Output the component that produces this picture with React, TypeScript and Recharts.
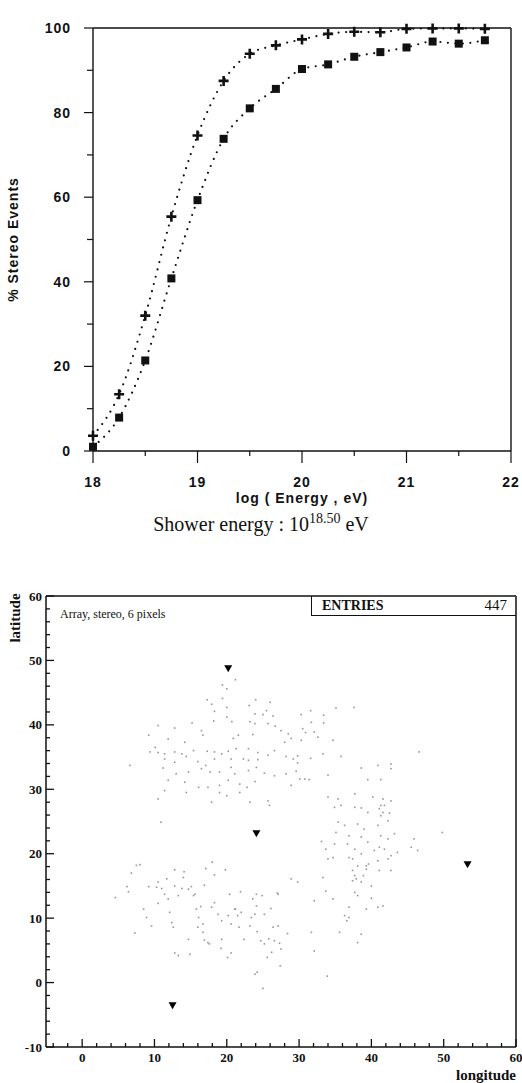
import React from 'react';
import { LineChart, Line, XAxis, YAxis, ScatterChart, Scatter, ReferenceLine } from 'recharts';

// --- efficiency curves (top panel) ---
const energyBins = [18, 18.25, 18.5, 18.75, 19, 19.25, 19.5, 19.75, 20, 20.25, 20.5, 20.75, 21, 21.25, 21.5, 21.75];
const crossPct = [3.6, 13.4, 32.0, 55.4, 74.6, 87.5, 93.9, 95.9, 97.3, 98.6, 99.1, 99.0, 99.8, 99.9, 99.9, 99.8];
const squarePct = [1.0, 7.9, 21.4, 40.8, 59.3, 73.8, 81.0, 85.6, 90.3, 91.4, 93.2, 94.3, 95.4, 96.8, 96.3, 97.1];
const energyTicks = [18, 18.5, 19, 19.5, 20, 20.5, 21, 21.5, 22];
const pctTicks = [0, 10, 20, 30, 40, 50, 60, 70, 80, 90, 100];

// --- shower core map (bottom panel) ---
const lonTicks = [-4, -2, 0, 2, 4, 6, 8, 10, 12, 14, 16, 18, 20, 22, 24, 26, 28, 30, 32, 34, 36, 38, 40, 42, 44, 46, 48, 50, 52, 54, 56, 58, 60];
const latTicks = [-10, -8, -6, -4, -2, 0, 2, 4, 6, 8, 10, 12, 14, 16, 18, 20, 22, 24, 26, 28, 30, 32, 34, 36, 38, 40, 42, 44, 46, 48, 50, 52, 54, 56, 58, 60];
const detectorSites: [number, number][] = [[20.2, 48.7], [24.1, 23.1], [12.5, -3.6], [53.3, 18.3]];
const eventPositions: [number, number][] = [
  [21.2, 47.0], [19.4, 46.2], [20.0, 45.6], [17.3, 43.9], [19.4, 44.1], [24.0, 43.9], [26.0, 43.5], [35.1, 42.6], [37.6, 42.7], [17.9, 43.2],
  [20.0, 42.7], [23.1, 43.0], [25.5, 42.2], [18.3, 42.1], [23.9, 41.7], [25.0, 41.6], [26.4, 41.4], [30.3, 41.6], [31.6, 42.2], [33.4, 41.5],
  [20.0, 41.2], [20.7, 40.5], [18.2, 40.6], [23.2, 40.5], [23.9, 40.2], [25.7, 40.2], [26.7, 39.8], [31.7, 40.4], [33.4, 40.3], [30.5, 39.4],
  [10.5, 39.9], [12.8, 39.5], [15.2, 40.3], [16.5, 39.1], [27.5, 39.1], [28.5, 38.6], [30.9, 38.8], [32.1, 38.9], [32.6, 38.1], [9.2, 38.4],
  [11.9, 37.8], [14.2, 37.3], [16.7, 38.4], [20.9, 37.9], [21.6, 38.4], [23.6, 38.5], [28.0, 37.3], [28.9, 37.9], [30.3, 37.6], [34.7, 37.6],
  [10.1, 36.5], [9.4, 35.8], [10.5, 35.7], [11.4, 35.5], [12.8, 35.8], [13.8, 35.5], [14.4, 35.1], [15.4, 36.0], [17.3, 35.9], [18.3, 35.8],
  [19.3, 35.5], [20.2, 35.9], [21.3, 36.3], [23.0, 36.3], [24.3, 35.7], [25.7, 35.3], [26.6, 36.0], [28.2, 35.1], [29.8, 35.2], [31.6, 34.8],
  [33.3, 35.5], [35.8, 35.1], [46.6, 35.8], [6.6, 33.7], [11.4, 34.7], [12.8, 34.2], [16.0, 34.3], [17.1, 33.7], [18.3, 34.7], [20.6, 34.7],
  [22.3, 34.7], [23.0, 34.5], [24.3, 34.6], [29.2, 34.7], [29.8, 34.1], [11.2, 33.3], [13.0, 32.4], [14.7, 32.7], [16.5, 33.2], [17.7, 32.7],
  [19.0, 32.7], [20.6, 33.4], [21.1, 32.4], [23.0, 32.9], [24.1, 33.4], [25.2, 32.5], [26.6, 32.1], [28.2, 32.4], [29.6, 32.8], [30.8, 31.6],
  [34.0, 32.2], [38.6, 33.3], [40.9, 33.7], [42.7, 33.2], [42.7, 33.9], [11.9, 31.4], [14.2, 31.1], [16.1, 30.3], [17.4, 30.3], [19.0, 30.6],
  [20.2, 31.4], [21.8, 30.8], [22.8, 30.3], [23.9, 31.2], [28.9, 30.6], [30.1, 31.6], [31.4, 31.5], [39.5, 31.5], [41.3, 31.5], [11.4, 29.8],
  [14.4, 29.5], [19.0, 29.5], [20.0, 29.0], [21.8, 29.5], [10.5, 28.5], [17.9, 28.0], [23.2, 28.0], [25.7, 28.2], [25.9, 27.5], [34.0, 28.8],
  [35.4, 28.5], [37.7, 29.3], [40.2, 28.8], [41.6, 28.5], [42.7, 28.2], [37.7, 27.2], [38.6, 27.1], [34.9, 27.2], [41.3, 27.5], [41.6, 26.4],
  [35.8, 27.5], [39.5, 26.4], [41.1, 27.0], [41.8, 27.5], [42.5, 26.3], [41.3, 25.9], [42.3, 25.1], [10.9, 24.9], [35.4, 24.9], [36.3, 24.4],
  [38.1, 24.6], [39.0, 23.8], [40.9, 24.4], [43.2, 23.1], [35.1, 23.3], [36.9, 22.8], [38.6, 22.6], [41.3, 22.8], [42.3, 22.3], [33.1, 21.9],
  [34.9, 21.5], [36.7, 21.5], [37.7, 20.7], [39.5, 21.8], [40.4, 20.5], [41.1, 21.0], [41.8, 20.7], [43.6, 20.2], [45.9, 22.3], [45.5, 21.0],
  [46.4, 20.5], [49.8, 23.3], [33.7, 20.7], [34.0, 19.2], [34.7, 19.4], [36.9, 19.4], [37.4, 19.2], [38.6, 20.0], [39.3, 18.1], [39.6, 18.4],
  [40.9, 18.9], [42.3, 19.2], [42.7, 19.7], [37.4, 17.4], [38.1, 18.1], [39.3, 17.6], [41.1, 17.4], [42.7, 17.4], [37.7, 16.6], [38.9, 16.6],
  [37.4, 15.8], [37.9, 16.1], [38.6, 15.6], [40.0, 15.0], [33.3, 16.3], [33.7, 14.2], [34.7, 13.0], [37.7, 14.0], [38.1, 13.5], [40.0, 13.1],
  [32.1, 12.7], [36.9, 11.7], [39.3, 11.4], [40.9, 11.7], [41.6, 11.9], [36.3, 10.4], [36.9, 10.1], [36.6, 9.6], [35.6, 7.8], [38.6, 7.5],
  [38.1, 6.2], [31.7, 7.8], [32.1, 4.9], [33.9, 1.0], [28.9, 16.1], [29.8, 15.6], [27.1, 13.7], [4.6, 13.2], [6.2, 14.9], [6.4, 14.1],
  [6.8, 17.0], [7.5, 18.2], [8.0, 18.3], [7.3, 7.7], [8.5, 11.4], [8.9, 10.1], [9.2, 14.9], [9.6, 8.8], [10.3, 14.8], [10.5, 12.3],
  [10.5, 15.6], [11.0, 14.6], [11.4, 13.7], [11.7, 16.1], [11.9, 13.0], [12.1, 10.9], [12.4, 9.3], [12.6, 8.6], [12.8, 17.5], [12.8, 15.0],
  [13.3, 13.5], [13.8, 14.6], [14.0, 16.3], [14.1, 17.2], [14.7, 14.5], [15.1, 14.9], [15.4, 13.5], [15.6, 13.7], [15.8, 11.4], [16.0, 8.6],
  [16.4, 11.8], [16.7, 7.8], [16.9, 15.1], [16.9, 6.6], [17.1, 17.7], [17.4, 6.2], [17.6, 6.0], [17.9, 11.7], [18.0, 18.7], [18.3, 16.7],
  [19.3, 9.6], [19.3, 6.7], [19.8, 17.5], [20.1, 3.9], [20.6, 4.6], [20.2, 10.4], [20.4, 13.7], [20.6, 9.1], [21.1, 11.4], [21.5, 10.4],
  [21.7, 8.6], [21.9, 14.1], [22.0, 10.9], [22.4, 6.7], [23.2, 8.8], [23.4, 10.1], [23.6, 13.0], [23.9, 10.6], [24.1, 13.7], [24.1, 11.9],
  [24.2, 7.9], [23.9, 1.3], [24.2, 1.6], [24.7, 6.5], [24.9, 13.5], [25.0, -0.9], [25.2, 10.6], [25.2, 6.0], [25.6, 3.9], [25.8, 6.8],
  [26.1, 11.5], [26.2, 4.7], [26.4, 8.6], [26.6, 6.5], [27.0, 13.9], [27.1, 8.8], [27.3, 6.1], [27.4, 2.6], [27.5, 5.2], [28.4, 7.6],
  [12.8, 4.6], [13.3, 4.2], [14.7, 6.7], [14.9, 4.4], [16.1, 10.1], [16.7, 9.1], [18.3, 12.4], [18.8, 10.6], [19.2, 5.3], [21.2, 11.4],
];
const entriesCount = 447;

const effData = energyBins.map((e, i) => ({ energy: e, cross: crossPct[i], square: squarePct[i] }));
const eventData = eventPositions.map(([lon, lat]) => ({ lon, lat }));
const siteData = detectorSites.map(([lon, lat]) => ({ lon, lat }));

const INK = '#111';
const sans = { fontFamily: '"Liberation Sans", Arial, sans-serif', fontWeight: 700, fontSize: 14, letterSpacing: 1 };
const serif = '"Liberation Serif", "Times New Roman", serif';

// tick renderers: tickSize/tickMargin are 0, so (x, y) sit on the axis line
const energyBottomTick = ({ x, y, payload }: any) => {
  const major = Number.isInteger(payload.value);
  return (
    <g>
      <line x1={x} y1={y} x2={x} y2={y + (major ? 12 : 5)} stroke={INK} strokeWidth={1.2} />
      {major && (
        <text x={x} y={y + 36} textAnchor="middle" fill={INK} style={sans}>
          {payload.value}
        </text>
      )}
    </g>
  );
};

const energyTopTick = ({ x, y, payload }: any) => {
  const major = Number.isInteger(payload.value);
  return <line x1={x} y1={y} x2={x} y2={y - (major ? 13 : 7)} stroke={INK} strokeWidth={1.2} />;
};

const pctLeftTick = ({ x, y, payload }: any) => {
  const major = payload.value % 20 === 0;
  return (
    <g>
      <line x1={x} y1={y} x2={x - (major ? 9 : 6)} y2={y} stroke={INK} strokeWidth={1.2} />
      {major && (
        <text x={x - 22} y={y + 5} textAnchor="end" fill={INK} style={sans}>
          {payload.value}
        </text>
      )}
    </g>
  );
};

const pctRightTick = ({ x, y }: any) => (
  <line x1={x} y1={y} x2={x + 11} y2={y} stroke={INK} strokeWidth={1.2} />
);

const lonTick = ({ x, y, payload }: any) => {
  const major = payload.value % 10 === 0;
  return (
    <g>
      <line x1={x} y1={y} x2={x} y2={y - (major ? 8 : 4)} stroke={INK} strokeWidth={1.3} />
      {major && (
        <text x={x} y={y + 15} textAnchor="middle" fill={INK} fontFamily={serif} fontWeight={700} fontSize={13}>
          {payload.value}
        </text>
      )}
    </g>
  );
};

const latTick = ({ x, y, payload }: any) => {
  const major = payload.value % 10 === 0;
  return (
    <g>
      <line x1={x} y1={y} x2={x + (major ? 8 : 4)} y2={y} stroke={INK} strokeWidth={1.3} />
      {major && (
        <text x={x - 4} y={y + 4.5} textAnchor="end" fill={INK} fontFamily={serif} fontWeight={700} fontSize={13}>
          {payload.value}
        </text>
      )}
    </g>
  );
};

const plusMarker = (p: any) => (
  <path
    key={`c${p.index}`}
    d={`M${p.cx - 5},${p.cy} H${p.cx + 5} M${p.cx},${p.cy - 5} V${p.cy + 5}`}
    stroke={INK}
    strokeWidth={2.6}
    fill="none"
  />
);

const squareMarker = (p: any) => (
  <rect key={`s${p.index}`} x={p.cx - 4} y={p.cy - 4} width={8} height={8} fill={INK} />
);

const eventDot = (p: any) => <rect x={p.cx - 0.8} y={p.cy - 0.8} width={1.6} height={1.6} fill="#969696" />;

const siteMarker = (p: any) => (
  <path d={`M${p.cx - 4},${p.cy - 3.5} L${p.cx + 4},${p.cy - 3.5} L${p.cx},${p.cy + 3.5} Z`} fill="#000" />
);

export default function App() {
  return (
    <div style={{ position: 'absolute', left: 0, top: 0, width: 522, height: 1083, background: '#fff', overflow: 'hidden' }}>
      <LineChart width={522} height={560} data={effData} margin={{ top: 0, right: 0, bottom: 0, left: 0 }}>
        <XAxis
          dataKey="energy"
          type="number"
          domain={[18, 22]}
          ticks={energyTicks}
          interval={0}
          height={109}
          tickSize={0}
          tickMargin={0}
          tick={energyBottomTick}
          axisLine={{ stroke: INK, strokeWidth: 1.4 }}
          label={(props: any) => (
            <text x={props.viewBox.x + props.viewBox.width / 2} y={503} textAnchor="middle" fill={INK} style={sans}>
              log ( Energy , eV)
            </text>
          )}
        />
        <XAxis
          xAxisId="top"
          orientation="top"
          type="number"
          domain={[18, 22]}
          ticks={energyTicks}
          interval={0}
          height={28}
          tickSize={0}
          tickMargin={0}
          tick={energyTopTick}
          axisLine={{ stroke: INK, strokeWidth: 1.4 }}
        />
        <YAxis
          type="number"
          domain={[0, 100]}
          ticks={pctTicks}
          interval={0}
          width={93}
          tickSize={0}
          tickMargin={0}
          tick={pctLeftTick}
          axisLine={{ stroke: INK, strokeWidth: 1.4 }}
          label={(props: any) => (
            <text
              x={18}
              y={props.viewBox.y + props.viewBox.height / 2}
              transform={`rotate(-90 18 ${props.viewBox.y + props.viewBox.height / 2})`}
              textAnchor="middle"
              fill={INK}
              style={sans}
            >
              % Stereo Events
            </text>
          )}
        />
        <YAxis
          yAxisId="right"
          orientation="right"
          type="number"
          domain={[0, 100]}
          ticks={pctTicks}
          interval={0}
          width={11}
          tickSize={0}
          tickMargin={0}
          tick={pctRightTick}
          axisLine={{ stroke: INK, strokeWidth: 1.4 }}
        />
        <Line
          dataKey="cross"
          type="monotone"
          stroke={INK}
          strokeWidth={2.2}
          strokeDasharray="0 7.5"
          strokeLinecap="round"
          dot={plusMarker}
          isAnimationActive={false}
        />
        <Line
          dataKey="square"
          type="monotone"
          stroke={INK}
          strokeWidth={2.2}
          strokeDasharray="0 7.5"
          strokeLinecap="round"
          dot={squareMarker}
          isAnimationActive={false}
        />
      </LineChart>

      <div style={{ position: 'absolute', left: 0, top: 511, width: 522, textAlign: 'center', fontFamily: serif, fontSize: 20, color: INK }}>
        Shower energy : 10<sup style={{ fontSize: 14 }}>18.50</sup> eV
      </div>

      <div style={{ position: 'absolute', left: 0, top: 560 }}>
        <ScatterChart width={522} height={523} margin={{ top: 36, right: 6, bottom: 0, left: 0 }}>
          <XAxis
            dataKey="lon"
            type="number"
            domain={[-5, 60]}
            ticks={lonTicks}
            interval={0}
            height={36}
            tickSize={0}
            tickMargin={0}
            tick={lonTick}
            axisLine={{ stroke: INK, strokeWidth: 1.5 }}
            label={(props: any) => (
              <text x={props.viewBox.x + props.viewBox.width} y={520} textAnchor="end" fill={INK} fontFamily={serif} fontWeight={700} fontSize={15}>
                longitude
              </text>
            )}
          />
          <YAxis
            dataKey="lat"
            type="number"
            domain={[-10, 60]}
            ticks={latTicks}
            interval={0}
            width={46}
            tickSize={0}
            tickMargin={0}
            tick={latTick}
            axisLine={{ stroke: INK, strokeWidth: 1.5 }}
            label={() => (
              <text x={20} y={58} transform="rotate(-90 20 58)" textAnchor="middle" fill={INK} fontFamily={serif} fontWeight={700} fontSize={15}>
                latitude
              </text>
            )}
          />
          <ReferenceLine y={60} stroke={INK} strokeWidth={1.5} />
          <ReferenceLine x={60} stroke={INK} strokeWidth={1.5} />
          <Scatter data={eventData} shape={eventDot} isAnimationActive={false} />
          <Scatter data={siteData} shape={siteMarker} isAnimationActive={false} />
        </ScatterChart>
      </div>

      <div style={{ position: 'absolute', left: 60, top: 607, fontFamily: serif, fontSize: 12, color: INK }}>
        Array, stereo, 6 pixels
      </div>
      <div
        style={{
          position: 'absolute',
          left: 311,
          top: 596,
          width: 205,
          height: 20,
          borderLeft: `1.5px solid ${INK}`,
          borderBottom: `1.5px solid ${INK}`,
          fontFamily: serif,
          fontWeight: 700,
          fontSize: 14,
          color: INK,
          display: 'flex',
          justifyContent: 'space-between',
          alignItems: 'center',
          padding: '0 9px 0 10px',
          boxSizing: 'border-box',
        }}
      >
        <span>ENTRIES</span>
        <span style={{ fontWeight: 400, fontSize: 15 }}>{entriesCount}</span>
      </div>
    </div>
  );
}
